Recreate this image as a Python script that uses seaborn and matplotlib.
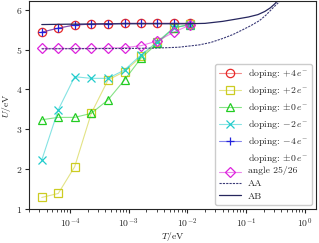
import numpy as np
import pandas as pd
import matplotlib
matplotlib.use("Agg")
import matplotlib.pyplot as plt
import seaborn as sns

# temperatures of the simulation points (eV)
T = [3.3e-5, 6.3e-5, 1.2e-4, 2.3e-4, 4.45e-4, 8.5e-4, 1.63e-3, 3.1e-3, 5.9e-3, 1.12e-2]

# critical U for each doping
U_p4 = [5.44, 5.54, 5.62, 5.64, 5.65, 5.66, 5.66, 5.66, 5.66, 5.66]
U_p2 = [1.29, 1.39, 2.06, 3.40, 4.24, 4.45, 4.83, 5.20, 5.55, 5.64]
U_0 = [3.24, 3.30, 3.30, 3.40, 3.74, 4.24, 4.79, 5.16, 5.55, 5.63]
U_m2 = [2.23, 3.49, 4.32, 4.28, 4.28, 4.49, 4.87, 5.20, 5.55, 5.63]
U_m4 = [5.44, 5.54, 5.62, 5.64, 5.65, 5.66, 5.66, 5.66, 5.66, 5.66]
U_angle = [5.03, 5.03, 5.03, 5.03, 5.04, 5.05, 5.10, 5.22, 5.44, 5.62]

# AA / AB stacking reference curves
T_AA = [3.3e-5, 1e-3, 3e-3, 7e-3, 1.6e-2, 2.5e-2, 4e-2, 6e-2, 8.8e-2, 0.12, 0.17, 0.22, 0.28, 0.35, 0.42, 0.5]
U_AA = [5.02, 5.03, 5.04, 5.06, 5.12, 5.18, 5.28, 5.38, 5.50, 5.60, 5.73, 5.87, 6.03, 6.17, 6.28, 6.45]
T_AB = [3.3e-5, 1e-4, 1e-3, 1e-2, 2e-2, 4e-2, 7e-2, 0.11, 0.16, 0.21, 0.26, 0.31, 0.36, 0.42]
U_AB = [5.63, 5.64, 5.65, 5.65, 5.66, 5.71, 5.77, 5.82, 5.88, 5.96, 6.05, 6.15, 6.26, 6.38]

sns.set_style("ticks")
plt.rcParams['font.family'] = ['cmr10']
plt.rcParams['mathtext.fontset'] = 'cm'
plt.rcParams['axes.formatter.use_mathtext'] = True
plt.rcParams['font.size'] = 7

fig = plt.figure(figsize=(3.19, 2.43), dpi=100)
ax = fig.add_axes([0.091, 0.14, 0.9, 0.854])

series = [
    (U_p4, '#e82828', 'o', r'doping: $+4\,e^{-}$'),
    (U_p2, '#cccc22', 's', r'doping: $+2\,e^{-}$'),
    (U_0, '#22cc22', '^', r'doping: $\pm0\,e^{-}$'),
    (U_m2, '#22cccc', 'x', r'doping: $-2\,e^{-}$'),
    (U_m4, '#2222dd', '+', r'doping: $-4\,e^{-}$'),
    (U_angle, '#dd22dd', 'D', 'doping: $\\pm0\\,e^{-}$\nangle 25/26'),
]

for vals, col, mk, lab in series:
    rgba = matplotlib.colors.to_rgba(col, 0.55)
    ms = 5.0 if mk == 'D' else 6.0
    sns.lineplot(x=T, y=vals, ax=ax, color=rgba, lw=0.8, marker=mk, ms=ms,
                 mfc='none', mec=col, mew=0.9, label=lab)

df_aa = pd.DataFrame({'T': T_AA, 'U': U_AA})
df_ab = pd.DataFrame({'T': T_AB, 'U': U_AB})
sns.lineplot(data=df_aa, x='T', y='U', ax=ax, color='#3b3b78', lw=0.8, ls=(0, (2, 1)), label='AA')
sns.lineplot(data=df_ab, x='T', y='U', ax=ax, color='#26265e', lw=0.9, label='AB')

ax.set_xscale('log')
ax.set_xlim(2.0e-5, 1.57)
ax.set_ylim(1, 6.21)
ax.set_yticks([1, 2, 3, 4, 5, 6])
ax.set_xlabel(r'$T/\mathrm{eV}$', labelpad=0)
ax.set_ylabel(r'$U/\mathrm{eV}$', labelpad=2)
ax.tick_params(which='major', length=3, width=0.8, pad=2)
ax.tick_params(which='minor', length=1.8, width=0.6)
for s in ax.spines.values():
    s.set_linewidth(0.8)

leg = ax.legend(loc='lower right', fontsize=7, handlelength=2.3, labelspacing=0.4,
                handletextpad=0.7, borderaxespad=0.45, fancybox=True,
                edgecolor='#cccccc', framealpha=1)
# put the diamond next to the second line of its two-line label
for col in leg._legend_handle_box.get_children():
    for hp in col.get_children():
        txt = hp.get_children()[1]
        if '\n' in txt._text.get_text():
            hp.align = 'bottom'

fig.savefig('out.png', dpi=100)
